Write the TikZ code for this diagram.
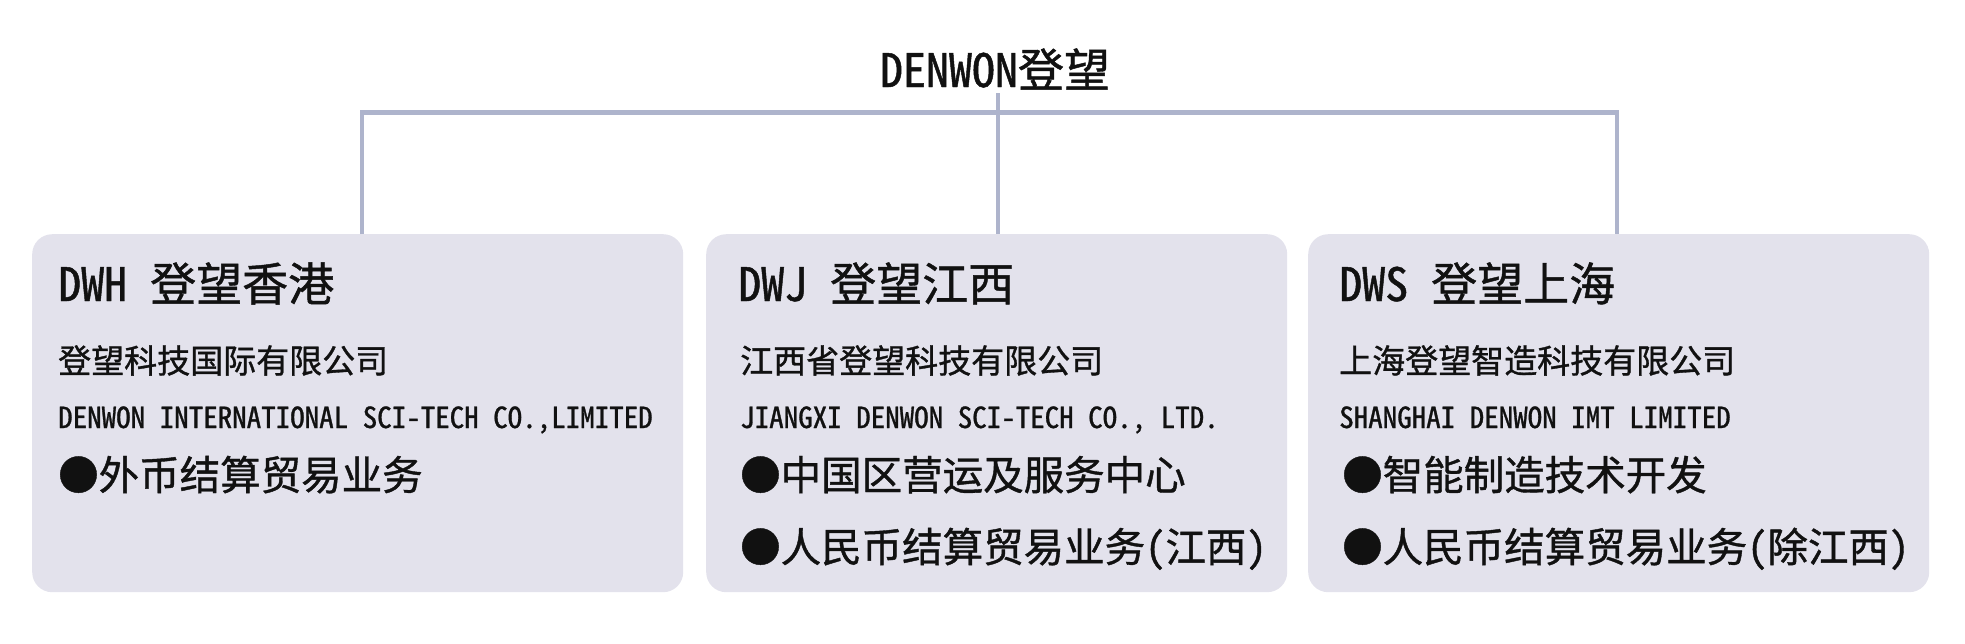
\documentclass[tikz,border=0pt]{standalone}
\usepackage{fontspec}
\setmainfont{Noto Sans CJK SC}
\newfontfamily\hw[RawFeature=+hwid, FakeBold=1]{Noto Sans CJK SC}
\definecolor{boxc}{HTML}{E3E2EC}
\definecolor{linec}{HTML}{AEB4CC}
\definecolor{txt}{HTML}{111111}
\tikzset{
  orgbox/.style={fill=boxc, draw=none, rounded corners=20pt, anchor=north west, inner sep=0pt},
  conn/.style={draw=linec, line width=4.5pt},
  txtbase/.style={anchor=base west, inner sep=0pt, text=txt},
  headtxt/.style={txtbase, font=\hw\fontsize{46}{46}\selectfont},
  cntxt/.style={txtbase, font=\hw\fontsize{33}{33}\selectfont},
  entxt/.style={txtbase, font=\hw\fontsize{29}{29}\selectfont},
  bultxt/.style={txtbase, font=\hw\fontsize{40.5}{40.5}\selectfont},
}
\begin{document}
\begin{tikzpicture}[x=1pt,y=-1pt]
\useasboundingbox (0,0) rectangle (1965,643);
% title
\node[anchor=base, inner sep=0pt, text=txt, font=\hw\fontsize{46}{46}\selectfont] (title) at (995,87) {DENWON登望};
% boxes
\node[orgbox, minimum width=651pt, minimum height=358pt] (b1) at (32,234) {};
\node[orgbox, minimum width=581pt, minimum height=358pt] (b2) at (706,234) {};
\node[orgbox, minimum width=621pt, minimum height=358pt] (b3) at (1308,234) {};
% connectors
\coordinate (hl) at (0,112.5);
\coordinate (tb) at (998,93);
\draw[conn] ([xshift=4.5pt]b1.north) -- ([xshift=4.5pt]b1.north |- hl) -- ([xshift=-1.5pt]b3.north |- hl) -- ([xshift=-1.5pt]b3.north);
\draw[conn] (tb) -- (tb |- b2.north);
% box 1
\node[headtxt] (h1) at (58,301) {DWH 登望香港};
\node[cntxt] (c1) at (58,373) {登望科技国际有限公司};
\node[entxt] (e1) at (58,428) {DENWON INTERNATIONAL SCI-TECH CO.,LIMITED};
\node[bultxt] (p11) at (58,490) {●外币结算贸易业务};
% box 2
\node[headtxt] (h2) at (738,301) {DWJ 登望江西};
\node[cntxt] (c2) at (740,373) {江西省登望科技有限公司};
\node[entxt] (e2) at (740,428) {JIANGXI DENWON SCI-TECH CO., LTD.};
\node[bultxt] (p21) at (740,490) {●中国区营运及服务中心};
\node[bultxt] (p22) at (740,562) {●人民币结算贸易业务(江西)};
% box 3
\node[headtxt] (h3) at (1339,301) {DWS 登望上海};
\node[cntxt] (c3) at (1339,373) {上海登望智造科技有限公司};
\node[entxt] (e3) at (1339,428) {SHANGHAI DENWON IMT LIMITED};
\node[bultxt] (p31) at (1342,490) {●智能制造技术开发};
\node[bultxt] (p32) at (1342,562) {●人民币结算贸易业务(除江西)};
\end{tikzpicture}
\end{document}
